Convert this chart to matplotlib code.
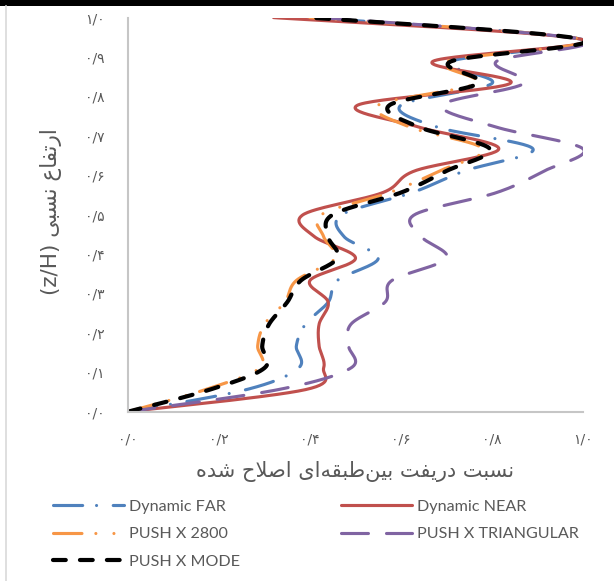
import matplotlib
matplotlib.use("Agg")
import matplotlib.pyplot as plt
from matplotlib.lines import Line2D
from matplotlib.patches import Rectangle
import numpy as np

plt.rcParams["lines.scale_dashes"] = False

# Relative height z/H of each storey level (18-storey frame)
rel_height = [0.0, 0.056, 0.111, 0.167, 0.222, 0.278, 0.333, 0.389, 0.444, 0.5,
              0.556, 0.611, 0.667, 0.722, 0.778, 0.833, 0.889, 0.944, 1.0]

# Modified inter-storey drift ratio of each analysis
dynamic_far = [0.0, 0.26, 0.375, 0.37, 0.39, 0.44, 0.46, 0.55, 0.475, 0.47,
               0.625, 0.74, 0.89, 0.68, 0.60, 0.80, 0.71, 1.0, 0.40]
dynamic_near = [0.0, 0.39, 0.43, 0.42, 0.42, 0.44, 0.40, 0.50, 0.41, 0.385,
                0.56, 0.63, 0.815, 0.64, 0.505, 0.84, 0.67, 1.0, 0.32]
push_2800 = [0.0, 0.17, 0.29, 0.285, 0.30, 0.345, 0.37, 0.455, 0.43, 0.425,
             0.575, 0.685, 0.78, 0.62, 0.55, 0.765, 0.70, 1.0, 0.40]
push_triangular = [0.0, 0.33, 0.49, 0.485, 0.49, 0.565, 0.58, 0.70, 0.645, 0.63,
                   0.81, 0.915, 1.0, 0.81, 0.69, 0.87, 0.81, 1.0, 0.42]
push_mode = [0.0, 0.18, 0.30, 0.295, 0.31, 0.35, 0.38, 0.46, 0.44, 0.45,
             0.60, 0.70, 0.795, 0.64, 0.575, 0.77, 0.71, 1.0, 0.40]

series_names = ["Dynamic FAR", "Dynamic NEAR", "PUSH X 2800",
                "PUSH X TRIANGULAR", "PUSH X MODE"]

x_ticks = [0.0, 0.2, 0.4, 0.6, 0.8, 1.0]
y_ticks = [0.0, 0.1, 0.2, 0.3, 0.4, 0.5, 0.6, 0.7, 0.8, 0.9, 1.0]

x_title = "نسبت دریفت بین\u200cطبقه\u200cای اصلاح شده"
y_title = "ارتفاع نسبی"
y_title_latin = "(z/H)"

# ---------------------------------------------------------------- Persian text
_FORMS = {
    'ا': ('\uFE8D', '\uFE8E', None, None),
    'د': ('\uFEA9', '\uFEAA', None, None),
    'ر': ('\uFEAD', '\uFEAE', None, None),
    'ب': ('\uFE8F', '\uFE90', '\uFE91', '\uFE92'),
    'ت': ('\uFE95', '\uFE96', '\uFE97', '\uFE98'),
    'ح': ('\uFEA1', '\uFEA2', '\uFEA3', '\uFEA4'),
    'س': ('\uFEB1', '\uFEB2', '\uFEB3', '\uFEB4'),
    'ش': ('\uFEB5', '\uFEB6', '\uFEB7', '\uFEB8'),
    'ص': ('\uFEB9', '\uFEBA', '\uFEBB', '\uFEBC'),
    'ط': ('\uFEC1', '\uFEC2', '\uFEC3', '\uFEC4'),
    'ع': ('\uFEC9', '\uFECA', '\uFECB', '\uFECC'),
    'ف': ('\uFED1', '\uFED2', '\uFED3', '\uFED4'),
    'ق': ('\uFED5', '\uFED6', '\uFED7', '\uFED8'),
    'ل': ('\uFEDD', '\uFEDE', '\uFEDF', '\uFEE0'),
    'ن': ('\uFEE5', '\uFEE6', '\uFEE7', '\uFEE8'),
    'ه': ('\uFEE9', '\uFEEA', '\uFEEB', '\uFEEC'),
    'ی': ('\uFEEF', '\uFEF0', '\uFEF3', '\uFEF4'),
}
_LAM_ALEF = ('\uFEFB', '\uFEFC')


def _shape(text):
    units, i = [], 0
    while i < len(text):
        if text[i] == 'ل' and i + 1 < len(text) and text[i + 1] == 'ا':
            units.append('لا')
            i += 2
        else:
            units.append(text[i])
            i += 1

    def links_next(u):
        return u in _FORMS and _FORMS[u][2] is not None

    def links_prev(u):
        return u in _FORMS or u == 'لا'

    out = []
    for k, u in enumerate(units):
        prev = units[k - 1] if k > 0 else None
        nxt = units[k + 1] if k + 1 < len(units) else None
        a = prev is not None and links_next(prev) and links_prev(u)
        if u == 'لا':
            out.append(_LAM_ALEF[1] if a else _LAM_ALEF[0])
            continue
        if u not in _FORMS:
            if u != '\u200c':
                out.append(u)
            continue
        b = nxt is not None and links_next(u) and links_prev(nxt)
        iso, fin, ini, med = _FORMS[u]
        out.append(med if (a and b) else fin if a else ini if b else iso)
    return ''.join(out)


def rtl(text):
    return _shape(text)[::-1]


_FA_DIGITS = str.maketrans("0123456789", "۰۱۲۳۴۵۶۷۸۹")


def fa_num(v):
    return f"{v:.1f}".replace(".", "/").translate(_FA_DIGITS)


# ---------------------------------------------------------------- smoothing
def smooth(xs, ys, n=30):
    P = np.column_stack([xs, ys]).astype(float)
    ext = np.vstack([P[0], P, P[-1]])
    t = np.linspace(0, 1, n + 1)[1:, None]
    pts = [P[:1]]
    for i in range(len(P) - 1):
        p0, p3 = ext[i + 1], ext[i + 2]
        c1 = p0 + (ext[i + 2] - ext[i]) / 6.0
        c2 = p3 - (ext[i + 3] - ext[i + 1]) / 6.0
        seg = ((1 - t) ** 3) * p0 + 3 * (1 - t) ** 2 * t * c1 \
            + 3 * (1 - t) * t ** 2 * c2 + t ** 3 * p3
        pts.append(seg)
    out = np.vstack(pts)
    return out[:, 0], out[:, 1]


# ---------------------------------------------------------------- figure
W, H = 614, 581
fig = plt.figure(figsize=(W / 100, H / 100), dpi=100)
fig.patch.set_facecolor("white")

ax = fig.add_axes([128 / W, (H - 411.7) / H, 455 / W, 394.1 / H])
ax.set_xlim(0, 1.0)
ax.set_ylim(0, 1.0)

styles = [
    dict(color="#4F81BD", lw=2.25, ls=(0, (21, 10, 0.01, 12))),
    dict(color="#C0504D", lw=2.25, ls="-"),
    dict(color="#F79646", lw=2.25, ls=(0, (20.5, 10, 0.01, 13, 0.01, 10))),
    dict(color="#8064A2", lw=2.25, ls=(0, (19.4, 13))),
    dict(color="#000000", lw=3.0, ls=(0, (9.2, 10.2))),
]
data = [dynamic_far, dynamic_near, push_2800, push_triangular, push_mode]

handles = []
for name, vals, st in zip(series_names, data, styles):
    sx, sy = smooth(vals, rel_height)
    ln, = ax.plot(sx, sy, color=st["color"], lw=st["lw"], linestyle=st["ls"],
                  dash_capstyle="round", solid_capstyle="round",
                  solid_joinstyle="round", label=name)
    handles.append(ln)

for side in ("top", "right"):
    ax.spines[side].set_visible(False)
for side in ("left", "bottom"):
    ax.spines[side].set_color("#C6C6C6")
    ax.spines[side].set_linewidth(1.5)

tick_font = dict(family=["DejaVu Sans"], size=10, color="#595959")
ax.set_xticks(x_ticks)
ax.set_xticklabels([fa_num(v) for v in x_ticks], **tick_font)
ax.set_yticks(y_ticks)
ax.set_yticklabels([fa_num(v) for v in y_ticks], **tick_font)
ax.tick_params(axis="both", length=0)
ax.tick_params(axis="x", pad=15)
ax.tick_params(axis="y", pad=17)

fig.text(355.5 / W, 1 - 472 / H, rtl(x_title), ha="center", va="center",
         fontsize=15, color="#595959", family=["DejaVu Sans"])
fig.text(51 / W, 1 - 212 / H, y_title_latin + " " + rtl(y_title),
         rotation=90, ha="center", va="center",
         fontsize=15.5, color="#595959", family=["DejaVu Sans"])

# legend in two columns
leg_kw = dict(loc="upper left", frameon=False, borderpad=0, borderaxespad=0,
              handlelength=4.4, handletextpad=0.3, labelspacing=0.82,
              prop=dict(family="Lato", size=11.6), labelcolor="#595959")
leg1 = fig.legend([handles[0], handles[2], handles[4]],
                  [series_names[0], series_names[2], series_names[4]],
                  bbox_to_anchor=(53 / W, 1 - 499.5 / H), **leg_kw)
leg2 = fig.legend([handles[1], handles[3]],
                  [series_names[1], series_names[3]],
                  bbox_to_anchor=(341 / W, 1 - 499.5 / H), **leg_kw)

# chart frame details
fig.patches.append(Rectangle((0, 1 - 6 / H), 1, 6 / H, transform=fig.transFigure,
                             facecolor="black", edgecolor="none"))
fig.lines.append(Line2D([5.5 / W, 5.5 / W], [0, 1 - 6 / H], transform=fig.transFigure,
                        color="#D9D9D9", lw=1.2))

fig.savefig("out.png", dpi=100)
